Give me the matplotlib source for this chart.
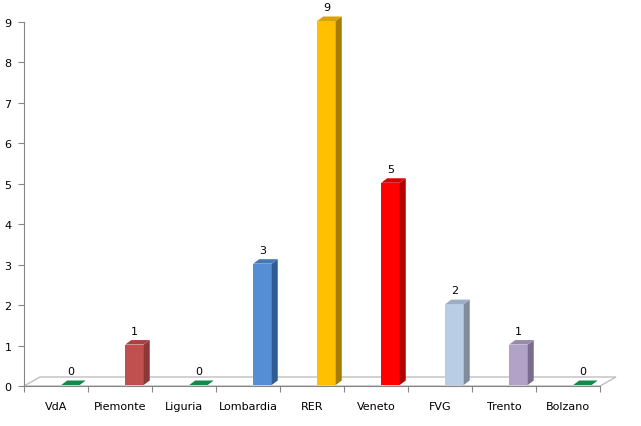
import numpy as np
import matplotlib.pyplot as plt
from matplotlib.patches import Polygon

regions = ["VdA", "Piemonte", "Liguria", "Lombardia", "RER", "Veneto", "FVG", "Trento", "Bolzano"]
values = [0, 1, 0, 3, 9, 5, 2, 1, 0]
front_colors = ["#138A4A", "#C0504D", "#138A4A", "#558ED5", "#FFC000", "#FF0000", "#B9CDE5", "#B3A2C7", "#138A4A"]
side_colors = ["#0C5E32", "#8C3836", "#0C5E32", "#2F5C93", "#A67C00", "#B00000", "#7F8C9C", "#7A6C8E", "#0C5E32"]
top_colors = ["#138A4A", "#A8413F", "#138A4A", "#4677B5", "#D9A300", "#D80000", "#9DAEC2", "#978AAA", "#138A4A"]

W, H = 641, 427
fig = plt.figure(figsize=(W / 100, H / 100), dpi=100)
x0, x1, y0, y1 = 24, 600, 387, 23
ax = fig.add_axes([x0 / W, 1 - y0 / H, (x1 - x0) / W, (y0 - y1) / H])
ax.set_xlim(-0.5, 8.5)
ax.set_ylim(0, 9)

# pixel -> data unit conversions
px = 9 / (x1 - x0)
py = 9 / (y0 - y1)

# floor
fdx, fdy = 16 * px, 9 * py
floor = Polygon([(-0.5, 0), (8.5, 0), (8.5 + fdx, fdy), (-0.5 + fdx, fdy)],
                closed=True, facecolor="white", edgecolor="#BFBFBF", lw=1, clip_on=False, zorder=1)
ax.add_patch(floor)

off = 14.5 * px
bw = 18.5 * px
ddx, ddy = 6 * px, 4.5 * py
base = 1 * py
for i, v in enumerate(values):
    l = i + off - bw / 2
    r = l + bw
    b = base
    t = base + v
    if v > 0:
        ax.add_patch(Polygon([(l, b), (r, b), (r, t), (l, t)], closed=True,
                             facecolor=front_colors[i], edgecolor="none", zorder=3, clip_on=False))
        ax.add_patch(Polygon([(r, b), (r + ddx, b + ddy), (r + ddx, t + ddy), (r, t)], closed=True,
                             facecolor=side_colors[i], edgecolor="none", zorder=3, clip_on=False))
    ax.add_patch(Polygon([(l, t), (r, t), (r + ddx, t + ddy), (l + ddx, t + ddy)], closed=True,
                         facecolor=top_colors[i], edgecolor="none", zorder=3, clip_on=False))
    ax.annotate(str(v), (i + off, t + ddy), xytext=(0, 3), textcoords="offset points",
                ha="center", va="bottom", fontsize=8, color="black", annotation_clip=False)

ax.set_xticks(np.arange(-0.5, 9, 1))
ax.set_xticklabels([])
ax.set_xticks(np.arange(9), minor=True)
ax.set_xticklabels(regions, minor=True, fontsize=8)
ax.tick_params(axis="x", which="minor", length=0, pad=11)
ax.tick_params(axis="x", which="major", length=4, color="#868686")
ax.set_yticks(range(10))
ax.tick_params(axis="y", length=4, color="#868686", labelsize=8, pad=5)

for s in ["top", "right"]:
    ax.spines[s].set_visible(False)
ax.spines["left"].set_color("#868686")
ax.spines["bottom"].set_color("#868686")
ax.spines["bottom"].set_zorder(2)

fig.savefig("out.png", dpi=100)
